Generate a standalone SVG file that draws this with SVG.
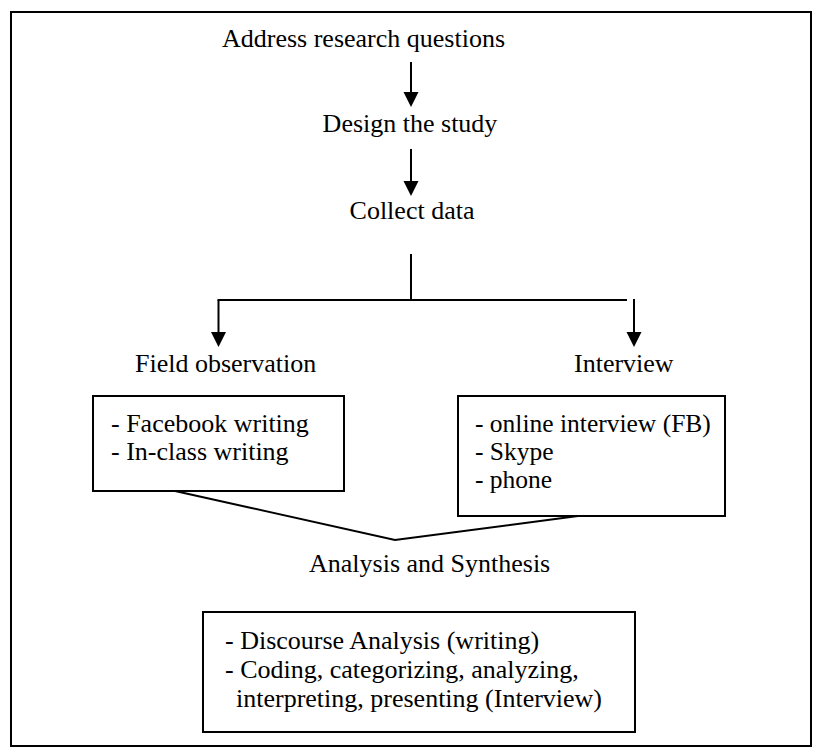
<svg xmlns="http://www.w3.org/2000/svg" width="822" height="756" viewBox="0 0 822 756">
<style>
text{font-family:"Liberation Serif","Times New Roman",serif;font-size:26px;fill:#000}
.sm{font-size:25.5px}
.box{fill:none;stroke:#000;stroke-width:2}
.ln{fill:none;stroke:#000;stroke-width:2}
.hd{fill:#000;stroke:none}
</style>
<rect x="0" y="0" width="822" height="756" fill="#fff"/>
<rect class="box" x="11" y="12" width="800" height="734"/>
<g id="n-address"><text x="222" y="47">Address research questions</text></g>
<g id="n-design"><text x="410" y="132" text-anchor="middle">Design the study</text></g>
<g id="n-collect"><text x="412" y="219" text-anchor="middle">Collect data</text></g>
<g id="n-field"><text x="135" y="372">Field observation</text></g>
<g id="n-interview"><text x="574" y="372">Interview</text></g>
<g id="n-fieldbox">
<rect class="box" x="93" y="396" width="251" height="95"/>
<text x="111" y="432">- Facebook writing</text>
<text x="111" y="460">- In-class writing</text>
</g>
<g id="n-interviewbox">
<rect class="box" x="458" y="396" width="267" height="120"/>
<text class="sm" x="475" y="432">- online interview (FB)</text>
<text class="sm" x="475" y="460">- Skype</text>
<text class="sm" x="475" y="488">- phone</text>
</g>
<g id="n-analysis"><text x="309" y="572">Analysis and Synthesis</text></g>
<g id="n-methods">
<rect class="box" x="203" y="612" width="432" height="120"/>
<text x="225" y="649">- Discourse Analysis (writing)</text>
<text x="225" y="678">- Coding, categorizing, analyzing,</text>
<text x="236" y="707">interpreting, presenting (Interview)</text>
</g>
<g id="connectors">
<line class="ln" x1="411" y1="62" x2="411" y2="93"/>
<polygon class="hd" points="403.5,92 418.5,92 411,107"/>
<line class="ln" x1="411" y1="149" x2="411" y2="182"/>
<polygon class="hd" points="403.5,181 418.5,181 411,196"/>
<line class="ln" x1="411" y1="254" x2="411" y2="300"/>
<line class="ln" x1="217.5" y1="300" x2="627" y2="300"/>
<line class="ln" x1="218.5" y1="300" x2="218.5" y2="333"/>
<polygon class="hd" points="211,332 226,332 218.5,347"/>
<line class="ln" x1="634" y1="299" x2="634" y2="333"/>
<polygon class="hd" points="626.5,332 641.5,332 634,347"/>
<polyline class="ln" points="175,491 395,540 578,516"/>
</g>
</svg>
